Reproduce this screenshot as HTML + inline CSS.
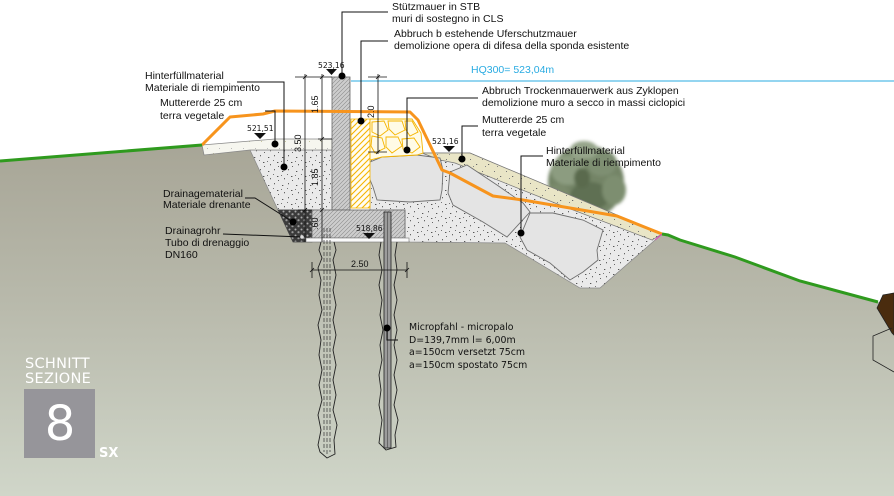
<!DOCTYPE html>
<html><head><meta charset="utf-8"><style>
html,body{margin:0;padding:0;background:#fff;}
svg{display:block;}
.t{font-family:"Liberation Sans",Arial,sans-serif;font-size:10.5px;fill:#111;}
.n{font-family:"DejaVu Sans",sans-serif;font-size:7.6px;fill:#111;}
.d{font-family:"Liberation Sans",Arial,sans-serif;font-size:9px;fill:#111;}
.m{font-family:"DejaVu Sans",sans-serif;font-size:9.4px;fill:#111;}
</style></head><body>
<svg width="894" height="496" viewBox="0 0 894 496" xmlns="http://www.w3.org/2000/svg">
<defs>
<linearGradient id="gr" x1="0" y1="140" x2="0" y2="496" gradientUnits="userSpaceOnUse">
<stop offset="0" stop-color="#a7a596"/><stop offset="0.45" stop-color="#b8b9ab"/><stop offset="1" stop-color="#d0d6c9"/>
</linearGradient>
<filter id="bl" x="-20%" y="-20%" width="140%" height="140%"><feGaussianBlur stdDeviation="1.6"/></filter>
<pattern id="hg" width="4" height="4" patternUnits="userSpaceOnUse"><rect width="4" height="4" fill="#cdcdcd"/><path d="M-1,1 L1,-1 M0,4 L4,0 M3,5 L5,3" stroke="#8c8c8c" stroke-width="0.6"/></pattern>
<pattern id="dt" width="14" height="14" patternUnits="userSpaceOnUse"><rect width="14" height="14" fill="#eaeaea"/>
<rect x="2" y="3" width="1.3" height="1" fill="#555"/><rect x="8" y="1" width="1" height="1.3" fill="#666"/><rect x="11" y="8" width="1.4" height="1" fill="#555"/><rect x="4" y="10" width="1" height="1.3" fill="#666"/><rect x="7" y="6" width="1" height="1" fill="#777"/><rect x="12" y="12" width="1" height="1" fill="#666"/><rect x="1" y="7" width="1" height="1" fill="#777"/></pattern>
<pattern id="bd" width="12" height="12" patternUnits="userSpaceOnUse"><rect width="12" height="12" fill="#e9e5c6"/><rect x="2" y="3" width="1" height="1" fill="#777"/><rect x="8" y="8" width="1.2" height="1" fill="#666"/><rect x="5" y="10" width="1" height="1" fill="#888"/></pattern>
<pattern id="wd" width="12" height="12" patternUnits="userSpaceOnUse"><rect width="12" height="12" fill="#f6f6ef"/><rect x="3" y="4" width="1" height="1" fill="#bbb"/><rect x="9" y="9" width="1" height="1" fill="#c8c8a0"/></pattern>
<pattern id="dr" width="6" height="6" patternUnits="userSpaceOnUse"><rect width="6" height="6" fill="#3b3b3b"/><circle cx="1.5" cy="1.5" r="1" fill="#aaa"/><circle cx="4.5" cy="4.2" r="1.1" fill="#999"/></pattern>
<pattern id="yh" width="6" height="6" patternUnits="userSpaceOnUse"><rect width="6" height="6" fill="#fffdf3"/><path d="M-1.5,1.5 L1.5,-1.5 M0,6 L6,0 M4.5,7.5 L7.5,4.5" stroke="#f5b400" stroke-width="1.1"/></pattern>
</defs>

<!-- ground -->
<path d="M0,161 L202,145 L250,150 L278,210 L293,242 L409,242 L505,243 L580,288 L600,288 L662,234 L668,235 L680,240 L735,257 L800,281 L878,302 L894,302 L894,496 L0,496 Z" fill="url(#gr)"/>

<!-- HQ line -->
<line x1="351" y1="81" x2="894" y2="81" stroke="#29abe2" stroke-width="1"/>
<text x="471" y="73" style="font-family:'Liberation Sans',sans-serif;font-size:10.5px;fill:#29abe2">HQ300= 523,04m</text>

<!-- tree -->
<g filter="url(#bl)">
<ellipse cx="586" cy="182" rx="38" ry="37" fill="#738466"/>
<ellipse cx="568" cy="170" rx="17" ry="15" fill="#8c9c80"/>
<ellipse cx="602" cy="163" rx="15" ry="13" fill="#7e8f72"/>
<ellipse cx="590" cy="196" rx="20" ry="14" fill="#5e6f52"/>
<ellipse cx="614" cy="190" rx="12" ry="15" fill="#7d8e70"/>
<ellipse cx="558" cy="196" rx="12" ry="12" fill="#7a8a6c"/>
<ellipse cx="584" cy="150" rx="14" ry="9" fill="#95a48a"/>
<ellipse cx="582" cy="178" rx="8" ry="10" fill="#5a6b4e"/>
</g>

<!-- left backfill -->
<path d="M250,150 L332,150 L332,210 L278,210 Z" fill="url(#dt)" stroke="#888" stroke-width="0.7"/>
<!-- drainage -->
<path d="M278,210 L312,210 L312,242 L293,242 Z" fill="url(#dr)" stroke="#444" stroke-width="0.7"/>
<!-- left topsoil slab -->
<path d="M202,145 L275,139 L332,139 L332,150 L250,150 L204,155 Z" fill="url(#wd)" stroke="#888" stroke-width="0.8"/>

<!-- right backfill -->
<path d="M370,158 L422,153 L470,153 L662,234 L600,288 L580,288 L505,243 L409,242 L405,238 L405,210 L370,210 Z" fill="url(#dt)" stroke="#888" stroke-width="0.7"/>
<!-- beige strip -->
<path d="M422,153 L470,153 L662,234 L652,240 L560,205 L455,163 L440,160 Z" fill="url(#bd)" stroke="#777" stroke-width="0.7"/>

<!-- rocks -->
<g fill="#e4e4e4" stroke="#6f6f6f" stroke-width="0.9">
<path d="M370,162 L382,157 L417,155 L440,158 L443,170 L442,190 L440,200 L410,202 L377,200 L373,187 L368,175 Z"/>
<path d="M450,172 L467,165 L497,185 L523,203 L530,212 L507,237 L483,222 L453,205 L448,193 Z"/>
<path d="M530,213 L553,213 L583,220 L603,230 L597,250 L598,260 L583,272 L570,280 L550,263 L527,250 L520,237 Z"/>
</g>

<!-- yellow hatched demolition -->
<path d="M351,119 L370,119 L370,208 L351,208 Z" fill="url(#yh)" stroke="#f5b400" stroke-width="0.8"/>
<!-- cyclopean -->
<path d="M370,119 L412,119 L421,133 L423,153 L417,155 L382,157 L370,160 Z" fill="#fffbe6" stroke="#f5b400" stroke-width="0.9"/>
<g fill="none" stroke="#f5b400" stroke-width="0.9">
<path d="M372,122 L384,121 L388,130 L380,136 L372,132 Z"/>
<path d="M388,121 L402,121 L405,130 L395,135 L389,129 Z"/>
<path d="M405,121 L412,121 L418,132 L410,136 L406,130 Z"/>
<path d="M372,136 L382,138 L385,148 L375,153 L371,146 Z"/>
<path d="M386,137 L398,137 L402,146 L392,153 L386,147 Z"/>
<path d="M402,139 L414,138 L420,147 L412,153 L403,149 Z"/>
</g>

<!-- wall stem and footing -->
<rect x="332" y="77" width="18" height="133" fill="url(#hg)" stroke="#666" stroke-width="0.8"/>
<rect x="312" y="210" width="93" height="28" fill="url(#hg)" stroke="#666" stroke-width="0.8"/>
<rect x="306" y="238" width="103" height="4" fill="#fafafa" stroke="#777" stroke-width="0.6"/>

<!-- piles -->
<path d="M321,242 L319,250 L322,258 L318,268 L321,280 L319,295 L322,310 L318,325 L321,340 L319,355 L322,370 L319,385 L322,400 L318,415 L321,430 L318,445 L320,452 L327,458 L335,454 L334,440 L337,425 L333,410 L336,395 L333,380 L336,365 L333,350 L336,335 L333,320 L336,305 L333,290 L336,275 L333,260 L336,250 L334,242" fill="#c9cdc2" fill-opacity="0.35" stroke="#222" stroke-width="0.9"/>
<g stroke="#333" stroke-width="0.7" stroke-dasharray="4,2">
<line x1="324" y1="228" x2="324" y2="452"/><line x1="327" y1="228" x2="327" y2="454"/><line x1="330" y1="228" x2="330" y2="452"/>
</g>
<path d="M381,242 L379,255 L382,270 L379,285 L382,300 L380,315 L383,330 L380,345 L382,360 L379,375 L381,390 L379,405 L382,420 L380,435 L379,443 L386,450 L396,447 L395,435 L398,420 L394,405 L397,390 L394,375 L397,360 L394,345 L397,330 L394,315 L397,300 L394,285 L397,270 L395,255 L397,242" fill="#c9cdc2" fill-opacity="0.35" stroke="#222" stroke-width="0.9"/>
<rect x="384" y="212" width="7" height="236" fill="#9c9c9c" stroke="#222" stroke-width="0.8"/>
<line x1="387.5" y1="212" x2="387.5" y2="448" stroke="#444" stroke-width="0.6"/>

<!-- orange line -->
<path d="M202,145 L230,117 L263,114 L275,111 L410,112 L418,120 L442,170 L450,173 L493,196 L523,200 L617,216 L662,234" fill="none" stroke="#f7941d" stroke-width="3" stroke-linejoin="round"/>
<line x1="655" y1="240" x2="662" y2="234" stroke="#e040c0" stroke-width="1"/>

<!-- green lines -->
<path d="M0,161 L202,145" stroke="#2f9a1e" stroke-width="3" fill="none"/>
<path d="M662,234 L668,235 L680,240 L735,257 L800,281 L878,302" stroke="#2f9a1e" stroke-width="3" fill="none"/>
<!-- brown rock -->
<path d="M877,308 L883,295 L894,293 L894,335 L892,333 Z" fill="#4a2c0e" stroke="#222" stroke-width="0.8"/>
<path d="M892,328 L873,336 L873,360 L894,372" fill="none" stroke="#222" stroke-width="0.8"/>

<!-- dimensions -->
<g stroke="#111" stroke-width="0.8" fill="none">
<line x1="295" y1="77" x2="332" y2="77"/>
<line x1="305" y1="74" x2="305" y2="242"/>
<line x1="322" y1="74" x2="322" y2="242"/>
<line x1="318" y1="139" x2="332" y2="139"/>
<line x1="298" y1="210" x2="312" y2="210"/>
<line x1="303" y1="79" x2="307" y2="75"/><line x1="320" y1="79" x2="324" y2="75"/>
<line x1="320" y1="141" x2="324" y2="137"/><line x1="303" y1="212" x2="307" y2="208"/><line x1="320" y1="212" x2="324" y2="208"/>
<line x1="368" y1="77" x2="387" y2="77"/>
<line x1="378" y1="74" x2="378" y2="154"/>
<line x1="368" y1="152" x2="387" y2="152"/>
<line x1="376" y1="79" x2="380" y2="75"/><line x1="376" y1="154" x2="380" y2="150"/>
<line x1="312" y1="262" x2="312" y2="278"/><line x1="407" y1="262" x2="407" y2="278"/>
<line x1="312" y1="270" x2="407" y2="270"/>
<line x1="310" y1="272" x2="314" y2="268"/><line x1="405" y1="272" x2="409" y2="268"/>
</g>
<text class="d" transform="translate(318,113) rotate(-90)">1.65</text>
<text class="d" transform="translate(301,152) rotate(-90)">3.50</text>
<text class="d" transform="translate(318,186) rotate(-90)">1.85</text>
<text class="d" transform="translate(318,230) rotate(-90)">.60</text>
<text class="d" transform="translate(374,118) rotate(-90)">2.0</text>
<text class="d" x="351" y="267">2.50</text>

<!-- level marks -->
<text class="n" x="318" y="68">523,16</text>
<path d="M326,69 L337,69 L331.5,75 Z" fill="#111"/>
<text class="n" x="247" y="131">521,51</text>
<path d="M254,133 L266,133 L260,139 Z" fill="#111"/>
<text class="n" x="432" y="144">521,16</text>
<path d="M443,146 L455,146 L449,152 Z" fill="#111"/>
<text class="n" x="356" y="231">518,86</text>
<path d="M363,233 L375,233 L369,239 Z" fill="#111"/>

<!-- leaders -->
<g stroke="#111" stroke-width="1" fill="none">
<path d="M388,12 H342 V76"/>
<path d="M388,41 H361 V121"/>
<path d="M237,82 H284 V167"/>
<path d="M265,111 H275 V144"/>
<path d="M478,98 H407 V150"/>
<path d="M478,126 H462 V159"/>
<path d="M543,156 H521 V233"/>
<path d="M245,198 H255 L293,222"/>
<path d="M223,234 L302,237"/>
<path d="M387,328 V340 H398"/>
</g>
<g fill="#000">
<circle cx="342" cy="76" r="3.5"/><circle cx="361" cy="121" r="3.5"/><circle cx="284" cy="167" r="3.5"/>
<circle cx="275" cy="144" r="3.5"/><circle cx="407" cy="150" r="3.5"/><circle cx="462" cy="159" r="3.5"/>
<circle cx="521" cy="233" r="3.5"/><circle cx="293" cy="222" r="3.5"/><circle cx="387" cy="328" r="3.5"/>
</g>
<circle cx="302" cy="237" r="1.8" fill="#ddd"/>

<!-- labels -->
<text class="t" x="392" y="10">Stützmauer in STB</text>
<text class="t" x="392" y="22">muri di sostegno in CLS</text>
<text class="t" x="394" y="37">Abbruch b estehende Uferschutzmauer</text>
<text class="t" x="394" y="49">demolizione opera di difesa della sponda esistente</text>
<text class="t" x="145" y="79">Hinterfüllmaterial</text>
<text class="t" x="145" y="91">Materiale di riempimento</text>
<text class="t" x="160" y="106">Muttererde 25 cm</text>
<text class="t" x="160" y="119">terra vegetale</text>
<text class="t" x="482" y="94">Abbruch Trockenmauerwerk aus Zyklopen</text>
<text class="t" x="482" y="106">demolizione muro a secco in massi ciclopici</text>
<text class="t" x="482" y="123">Muttererde 25 cm</text>
<text class="t" x="482" y="136">terra vegetale</text>
<text class="t" x="546" y="154">Hinterfüllmaterial</text>
<text class="t" x="546" y="166">Materiale di riempimento</text>
<text class="t" x="163" y="197">Drainagematerial</text>
<text class="t" x="163" y="208">Materiale drenante</text>
<text class="t" x="165" y="234">Drainagrohr</text>
<text class="t" x="165" y="246">Tubo di drenaggio</text>
<text class="t" x="165" y="258">DN160</text>
<text class="m" x="409" y="330">Micropfahl - micropalo</text>
<text class="m" x="409" y="343">D=139,7mm l= 6,00m</text>
<text class="m" x="409" y="355">a=150cm versetzt 75cm</text>
<text class="m" x="409" y="368">a=150cm spostato 75cm</text>

<!-- badge -->
<text x="25" y="368" style="font-family:'DejaVu Sans',sans-serif;font-size:14.5px;fill:#fff;letter-spacing:0.3px">SCHNITT</text>
<text x="25" y="383" style="font-family:'DejaVu Sans',sans-serif;font-size:14.5px;fill:#fff;letter-spacing:0.3px">SEZIONE</text>
<rect x="24" y="389" width="71" height="69" fill="#96959a"/>
<text x="60" y="440" text-anchor="middle" style="font-family:'DejaVu Sans',sans-serif;font-size:48px;fill:#fff">8</text>
<text x="99" y="457" style="font-family:'DejaVu Sans',sans-serif;font-size:13px;font-weight:bold;fill:#fff">SX</text>
</svg>
</body></html>
